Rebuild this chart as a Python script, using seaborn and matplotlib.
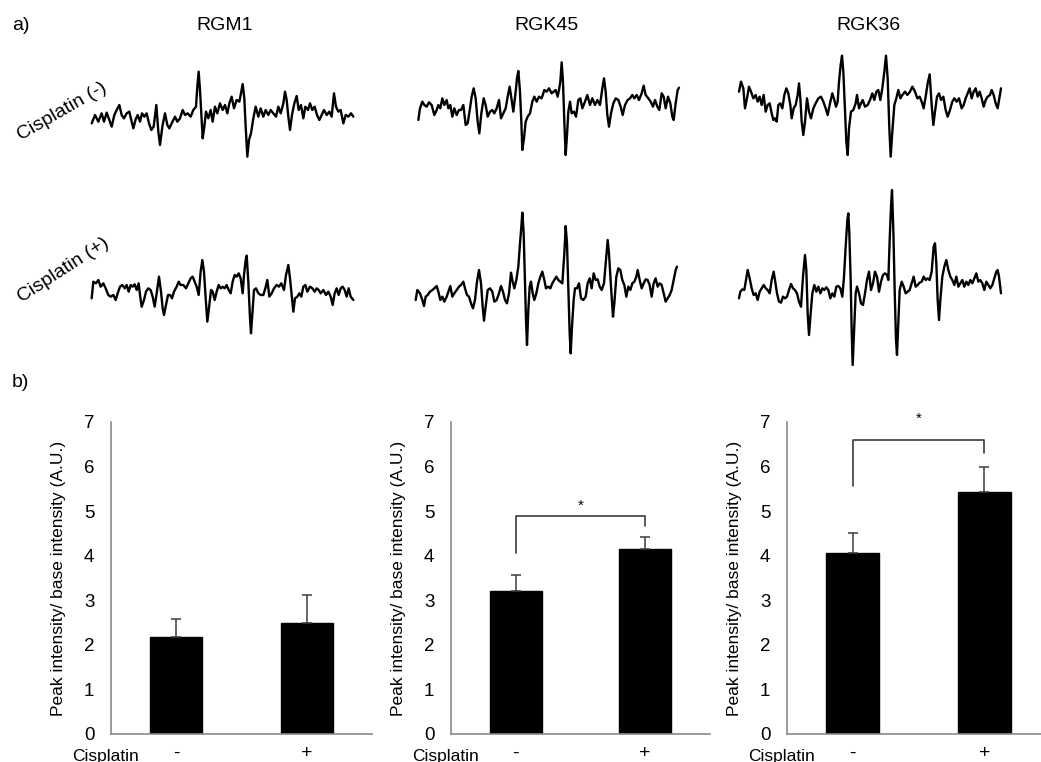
#!/usr/bin/env python3
"""
ESR spectra of RGM1 / RGK45 / RGK36 cells with and without cisplatin (a),
and the peak/base intensity ratios (b).
"""
import numpy as np
import matplotlib
matplotlib.use("Agg")
import matplotlib.pyplot as plt
import seaborn as sns

# --- DATA ---
CELL_LINES = ["RGM1", "RGK45", "RGK36"]
TREATMENT = ["-", "+"]

# peak intensity / base intensity (A.U.), mean and upper SD
RATIO_MEAN = {"RGM1": [2.18, 2.50], "RGK45": [3.20, 4.16], "RGK36": [4.07, 5.44]}
RATIO_SD = {"RGM1": [0.40, 0.62], "RGK45": [0.37, 0.26], "RGK36": [0.45, 0.56]}

# significance brackets: (left leg bottom, right leg bottom, bracket top, star y)
SIG_BRACKETS = {"RGK45": (4.07, 4.66, 4.88, 5.12), "RGK36": (5.56, 6.31, 6.60, 7.08)}

# spectra: field (arbitrary) and signal (arbitrary)
FIELD_RGM1_MINUS = [35, 45, 55, 65, 72, 80, 88, 95, 103, 110, 118, 125, 132, 140, 148, 155, 160, 167, 173, 180,
                    186, 193, 200, 207, 214, 221, 229, 235, 240, 247, 255, 262, 268, 275, 285, 292, 300, 308, 315,
                    323, 332, 340, 348, 352, 356, 360, 365, 368, 373, 378, 385, 392, 398, 405, 412, 420, 428, 435,
                    442, 448, 455, 462, 470, 478, 483, 488, 493, 497, 502, 507, 513, 520, 527, 535, 542, 550, 557,
                    565, 572, 580, 588, 595, 602, 610, 615, 620, 625, 630, 636, 643, 650, 656, 663, 670, 676, 684,
                    690, 697, 704, 711, 718, 725, 732, 740, 748, 755, 762, 768, 775, 782, 790, 797, 805, 813, 820]
SIGNAL_RGM1_MINUS = [-25, 0, -20, 5, -20, 7, -15, -35, 0, 15, 30, 0, -10, 5, 10, -20, -40, -13, 0, -20,
                     5, -5, 5, -25, -45, -35, 30, -50, -90, -35, 5, -30, -40, -25, -5, -20, -10, 15, 0,
                     5, -5, 15, 25, 85, 130, 75, -15, -70, -35, 10, -10, 15, -20, 25, 5, 35, 15, 30,
                     5, 35, 55, 20, 45, 40, 65, 93, 50, -35, -125, -75, -55, -10, 25, -5, 20, -5, 15,
                     0, 15, 5, -5, 25, 5, 35, 70, 45, -5, -45, 0, 35, 57, 15, 30, -10, 25, 15,
                     35, 15, 25, 0, -15, 0, 15, 0, 10, -5, 65, 25, 10, 15, -25, 0, -5, 5, -5]

FIELD_RGK45_MINUS = [40, 45, 52, 58, 65, 72, 80, 88, 95, 100, 106, 112, 118, 125, 130, 136, 142, 148, 155, 162,
                     168, 175, 182, 188, 195, 200, 206, 212, 218, 223, 229, 236, 242, 248, 255, 262, 268, 275,
                     282, 288, 295, 302, 308, 314, 320, 325, 332, 336, 340, 345, 349, 352, 357, 362, 368, 375,
                     382, 388, 395, 402, 410, 418, 425, 432, 440, 446, 452, 458, 462, 466, 470, 474, 478, 482,
                     486, 490, 495, 500, 507, 513, 520, 526, 532, 540, 547, 555, 562, 570, 577, 585, 592, 597,
                     602, 607, 612, 618, 625, 632, 640, 647, 653, 660, 668, 675, 682, 688, 695, 702, 710, 716,
                     722, 730, 737, 744, 750, 757, 763, 770, 776, 782, 789, 796, 802, 806, 812, 818, 822]
SIGNAL_RGK45_MINUS = [-45, -10, 10, 0, -5, 8, 0, -30, -15, 0, -10, 20, 0, 15, -10, 0, -35, -10, -30, -15,
                      -15, 0, -60, -55, -10, 25, 50, 20, -50, -85, -25, 20, 0, -35, -20, -15, -25, -10,
                      15, -40, -25, -10, 25, 55, 15, -20, 40, 80, 102, 40, -50, -135, -100, -50, -35, -25,
                      10, 25, 10, 25, 20, 45, 40, 50, 35, 40, 45, 25, 45, 70, 128, 70, -50, -150,
                      -90, -20, 10, -25, -20, -35, 15, 20, -10, 10, 30, 0, 20, 0, 15, 0, 50, 80,
                      40, -30, -65, -25, 5, 20, 15, -5, -30, 0, 15, 20, 30, 20, 30, 15, 35, 58,
                      30, 20, 10, -5, 15, -5, -15, 35, 25, -10, 25, 5, -35, -45, 5, 45, 52]

FIELD_RGK36_MINUS = [42, 48, 55, 60, 66, 72, 78, 85, 92, 98, 104, 110, 116, 122, 128, 134, 140, 145, 150, 155,
                     160, 166, 172, 178, 184, 190, 196, 200, 206, 212, 218, 222, 226, 230, 235, 240, 246, 252,
                     258, 265, 272, 280, 288, 295, 302, 308, 315, 322, 328, 333, 338, 342, 347, 351, 355, 360,
                     364, 368, 372, 378, 385, 392, 396, 402, 408, 413, 420, 428, 435, 442, 448, 454, 460, 466,
                     472, 478, 483, 488, 493, 497, 502, 508, 514, 520, 526, 532, 540, 547, 555, 562, 570, 577,
                     584, 590, 596, 602, 608, 614, 620, 625, 630, 636, 642, 648, 655, 662, 668, 675, 682, 688,
                     695, 702, 710, 716, 722, 728, 734, 740, 746, 752, 758, 764, 770, 776, 782, 788, 795, 800,
                     806, 812, 818, 823, 828]
SIGNAL_RGK36_MINUS = [20, 50, 30, -30, 0, 35, 20, 0, 10, -10, 5, -20, 10, -40, -20, -15, -45, -65, -60, -70,
                      -20, -15, -30, 10, 30, 15, -20, -60, -30, -20, 10, 45, 0, -70, -110, -70, 0, -40,
                      -60, -30, -15, 0, 5, -10, -30, -50, -15, 15, -5, -25, -10, 50, 100, 128, 80, -40,
                      -130, -170, -90, -40, -35, -15, 10, -30, -15, -5, -25, -20, -5, 15, -5, 20, 25, -5,
                      30, 80, 128, 60, -90, -175, -100, -20, 0, 25, 0, 10, 20, 10, 20, 35, 20, 0,
                      5, -10, -30, 5, 45, 72, -20, -80, -40, 5, 15, -5, 5, -35, -55, -35, -10, 0,
                      -10, 0, -30, -20, 0, 15, 30, 0, 20, 30, 5, 20, 0, -25, -5, 5, 10, 25,
                      10, -15, -30, 0, 30]

FIELD_RGM1_PLUS = [35, 40, 48, 55, 62, 70, 77, 85, 92, 100, 107, 113, 120, 127, 134, 140, 146, 152, 158, 164,
                   170, 176, 180, 185, 192, 198, 205, 212, 218, 224, 230, 237, 243, 248, 252, 258, 264, 270,
                   276, 282, 290, 296, 302, 310, 318, 325, 332, 338, 344, 350, 356, 362, 367, 372, 377, 382,
                   388, 393, 398, 404, 410, 416, 422, 428, 434, 440, 446, 452, 458, 464, 470, 476, 482, 488,
                   492, 497, 500, 505, 510, 513, 518, 522, 528, 535, 542, 550, 556, 562, 568, 575, 582, 590,
                   597, 604, 612, 618, 625, 630, 636, 640, 645, 652, 658, 664, 670, 676, 682, 690, 697, 704,
                   710, 716, 722, 730, 738, 745, 752, 758, 764, 770, 776, 782, 788, 794, 800, 806, 812, 820]
SIGNAL_RGM1_PLUS = [-25, 25, 20, 30, 10, 20, 5, -15, -20, -15, -30, -10, 10, 15, 5, 15, -5, 15, 10, 17,
                    0, 20, -15, -50, -30, -5, 5, 0, -20, -50, -10, 40, -5, -55, -75, -45, -15, -15,
                    -25, -5, 10, 25, 15, 15, 5, 20, 35, 40, 25, 10, -15, 55, 90, 55, -25, -95,
                    -45, 0, -5, -30, -5, 15, 5, 10, 5, 15, 0, -10, 25, 45, 40, 50, 35, -10,
                    45, 90, 103, 25, -85, -130, -55, 0, 5, -10, -15, -15, 5, 30, -20, -10, 5, 15,
                    10, 20, 0, 45, 75, 35, -25, -65, -25, -20, -10, -20, 10, 15, -5, 10, 5, -5,
                    5, 0, -10, 0, -15, -5, -20, -45, -10, 5, -15, 5, 10, 0, -20, 5, -20, -30]

FIELD_RGK45_PLUS = [32, 37, 45, 52, 57, 62, 68, 75, 82, 88, 95, 100, 106, 112, 118, 125, 132, 136, 142, 148,
                    155, 162, 168, 175, 180, 186, 192, 198, 204, 210, 216, 222, 228, 233, 237, 242, 248, 255,
                    262, 268, 275, 282, 288, 294, 300, 306, 312, 318, 322, 328, 334, 340, 345, 349, 352, 356,
                    360, 363, 366, 370, 374, 378, 383, 388, 394, 400, 406, 412, 418, 423, 430, 436, 442, 448,
                    454, 460, 466, 472, 478, 482, 486, 490, 494, 497, 501, 506, 510, 516, 522, 528, 535, 542,
                    548, 554, 560, 566, 572, 578, 584, 590, 597, 603, 608, 612, 618, 624, 628, 634, 640, 646,
                    652, 658, 664, 670, 676, 682, 688, 694, 698, 704, 710, 716, 722, 728, 734, 740, 746, 752,
                    758, 764, 770, 776, 782, 788, 794, 800, 806, 812, 816]
SIGNAL_RGK45_PLUS = [-30, 0, -10, -30, -48, -20, -15, -5, 0, 5, 12, -5, -30, -20, -35, -20, 0, 12, -20, -10,
                     0, 10, 15, 25, 5, -15, -20, -40, -55, -30, 25, 60, 20, -50, -92, -50, 0, 5,
                     -5, -35, -30, -10, 12, -5, -30, -40, -10, 52, 30, 5, 30, 70, 140, 190, 232, 170,
                     20, -90, -165, -60, 10, 25, -10, -30, -10, 20, 40, 55, 30, 5, 10, 5, 20, 30,
                     40, 30, 25, 20, 110, 192, 140, 0, -130, -190, -110, -30, 5, 5, 20, -25, -30, -20,
                     20, 35, 5, 50, 30, 32, 10, 0, 20, 90, 150, 110, 10, -80, -40, 40, 65, 60,
                     30, 15, -20, 10, 0, 20, 25, 40, 60, 30, 5, 20, 32, 30, 15, -20, 20, 35,
                     10, 20, 15, -10, -35, -25, -15, 0, 30, 60, 70]

FIELD_RGK36_PLUS = [42, 46, 52, 58, 63, 68, 73, 80, 86, 92, 98, 104, 110, 116, 122, 128, 134, 140, 146, 150,
                    156, 162, 168, 174, 180, 186, 192, 198, 204, 210, 216, 222, 228, 234, 240, 244, 248, 252,
                    257, 262, 268, 274, 280, 286, 292, 298, 304, 310, 316, 322, 328, 334, 340, 346, 352, 357,
                    362, 367, 370, 373, 377, 380, 383, 387, 392, 396, 402, 408, 414, 420, 426, 432, 438, 444,
                    450, 456, 462, 468, 474, 480, 486, 490, 494, 498, 501, 505, 509, 513, 516, 520, 524, 530,
                    536, 542, 548, 554, 560, 566, 572, 578, 584, 590, 596, 602, 608, 614, 620, 626, 630, 634,
                    638, 642, 646, 652, 658, 664, 670, 676, 682, 688, 694, 700, 706, 712, 718, 724, 730, 736,
                    742, 748, 754, 760, 766, 772, 778, 784, 790, 796, 802, 808, 814, 818, 822, 828]
SIGNAL_RGK36_PLUS = [-25, -5, 2, 0, 30, 60, 40, 5, -15, -10, -30, -5, 5, 15, 5, 0, -10, 30, 55, 30,
                     -10, -35, -38, -20, -25, -20, 0, 18, 5, 0, -10, -35, -50, 40, 105, 60, -70, -135,
                     -70, -10, 15, -5, 10, -10, 5, 0, 8, 0, -25, -10, -20, 10, 12, 5, -20, 40,
                     130, 210, 230, 170, 30, -120, -225, -130, -10, 10, -10, -40, -45, -10, 30, 55, 0, 20,
                     55, 40, -5, 25, 45, 50, 45, 30, 150, 250, 300, 180, 0, -150, -195, -100, 0, 25,
                     10, -10, -5, 0, 20, 40, 10, 15, 22, 25, 40, 30, 35, 30, 55, 130, 140, 80,
                     -30, -90, -30, 40, 70, 90, 60, 40, 30, 15, 40, 10, 20, 30, 10, 25, 15, 30,
                     20, 35, 50, 25, 30, 20, 0, 25, 15, 5, 15, 35, 55, 60, 40, -10]

SPECTRA = {
    ("RGM1", "-"): (FIELD_RGM1_MINUS, SIGNAL_RGM1_MINUS),
    ("RGK45", "-"): (FIELD_RGK45_MINUS, SIGNAL_RGK45_MINUS),
    ("RGK36", "-"): (FIELD_RGK36_MINUS, SIGNAL_RGK36_MINUS),
    ("RGM1", "+"): (FIELD_RGM1_PLUS, SIGNAL_RGM1_PLUS),
    ("RGK45", "+"): (FIELD_RGK45_PLUS, SIGNAL_RGK45_PLUS),
    ("RGK36", "+"): (FIELD_RGK36_PLUS, SIGNAL_RGK36_PLUS),
}

# --- LAYOUT (pixels on a 1041x762 canvas) ---
W, H = 1041, 762
FONT = ["Liberation Sans", "DejaVu Sans"]
AXIS_GREY = "#8a8a8a"

# spectrum frames: left, top, width, height, signal at top edge
SPEC_BOX = {
    ("RGM1", "-"): (80, 60, 290, 110, 165),
    ("RGK45", "-"): (405, 55, 290, 115, 150),
    ("RGK36", "-"): (725, 45, 290, 125, 160),
    ("RGM1", "+"): (80, 235, 290, 110, 165),
    ("RGK45", "+"): (405, 200, 290, 160, 270),
    ("RGK36", "+"): (725, 180, 290, 190, 330),
}
TITLE_X = {"RGM1": 225, "RGK45": 547, "RGK36": 868}
BAR_BOX = {"RGM1": (111, 372), "RGK45": (451, 710), "RGK36": (787, 1041)}
BAR_XLIM = {"RGM1": (-0.5, 1.5), "RGK45": (-0.5, 1.5), "RGK36": (-0.5, 1.43)}
BAR_TOP, BAR_BOTTOM = 422, 734


def px_rect(left, top, width, height):
    return [left / W, 1 - (top + height) / H, width / W, height / H]


def draw_spectrum(fig, key):
    left, top, width, height, top_signal = SPEC_BOX[key]
    field, signal = SPECTRA[key]
    ax = fig.add_axes(px_rect(left, top, width, height))
    sns.lineplot(x=field, y=signal, ax=ax, color="black", linewidth=1.7, estimator=None)
    ax.set_xlim(0, width * 3)
    ax.set_ylim(top_signal - height * 3, top_signal)
    ax.axis("off")


def draw_bars(fig, cell):
    x0, x1 = BAR_BOX[cell]
    ax = fig.add_axes(px_rect(x0, BAR_TOP, x1 - x0, BAR_BOTTOM - BAR_TOP))
    means = RATIO_MEAN[cell]
    sds = RATIO_SD[cell]
    sns.barplot(x=TREATMENT, y=means, order=TREATMENT, color="black", width=0.4,
                edgecolor="black", saturation=1, ax=ax, errorbar=None)
    ax.errorbar(range(len(means)), means, yerr=[np.zeros(len(sds)), sds], fmt="none",
                ecolor="#3c3c3c", elinewidth=1.1, capsize=3.5, capthick=1.1, zorder=1)
    ax.set_xlim(*BAR_XLIM[cell])
    ax.set_ylim(0, 7)
    ax.set_yticks(range(0, 8))
    ax.set_xlabel("")
    ax.set_ylabel("Peak intensity/ base intensity (A.U.)", fontsize=12.5, family=FONT)
    ax.yaxis.set_label_coords(-45 / (x1 - x0), 0.5)
    for side in ("top", "right"):
        ax.spines[side].set_visible(False)
    for side in ("left", "bottom"):
        ax.spines[side].set_color(AXIS_GREY)
        ax.spines[side].set_linewidth(1.2)
    ax.tick_params(axis="y", length=4, width=1.2, color=AXIS_GREY, labelcolor="black",
                   pad=8, labelsize=13.5)
    ax.tick_params(axis="x", length=0, pad=8, labelsize=14, labelcolor="black")
    for lab in ax.get_xticklabels() + ax.get_yticklabels():
        lab.set_family(FONT)
    ax.annotate("Cisplatin", xy=(0, 0), xycoords="axes fraction", xytext=(-4, -16),
                textcoords="offset points", ha="center", va="center", fontsize=12.5, family=FONT)

    if cell in SIG_BRACKETS:
        lo_left, lo_right, top, star_y = SIG_BRACKETS[cell]
        ax.plot([0, 0, 1, 1], [lo_left, top, top, lo_right], color="#3c3c3c",
                linewidth=1.2, clip_on=False)
        ax.text(0.5, star_y, "*", ha="center", va="center", fontsize=11, family=FONT,
                clip_on=False)


def main():
    sns.set_theme(style="white")
    plt.rcParams["font.family"] = FONT
    plt.rcParams["text.color"] = "black"
    plt.rcParams["axes.labelcolor"] = "black"
    fig = plt.figure(figsize=(W / 100, H / 100), dpi=100)

    fig.text(12 / W, 1 - 25 / H, "a)", fontsize=14, va="center", ha="left")
    fig.text(12 / W, 1 - 383 / H, "b)", fontsize=14, va="center", ha="left")
    for cell in CELL_LINES:
        fig.text(TITLE_X[cell] / W, 1 - 25 / H, cell, fontsize=14, ha="center", va="center")
    fig.text(62 / W, 1 - 112 / H, "Cisplatin (-)", fontsize=14, rotation=30,
             ha="center", va="center", rotation_mode="anchor")
    fig.text(63 / W, 1 - 270 / H, "Cisplatin (+)", fontsize=14, rotation=33,
             ha="center", va="center", rotation_mode="anchor")

    for key in SPECTRA:
        draw_spectrum(fig, key)
    for cell in CELL_LINES:
        draw_bars(fig, cell)

    fig.savefig("out.png", dpi=100)
    plt.close(fig)


if __name__ == "__main__":
    main()
